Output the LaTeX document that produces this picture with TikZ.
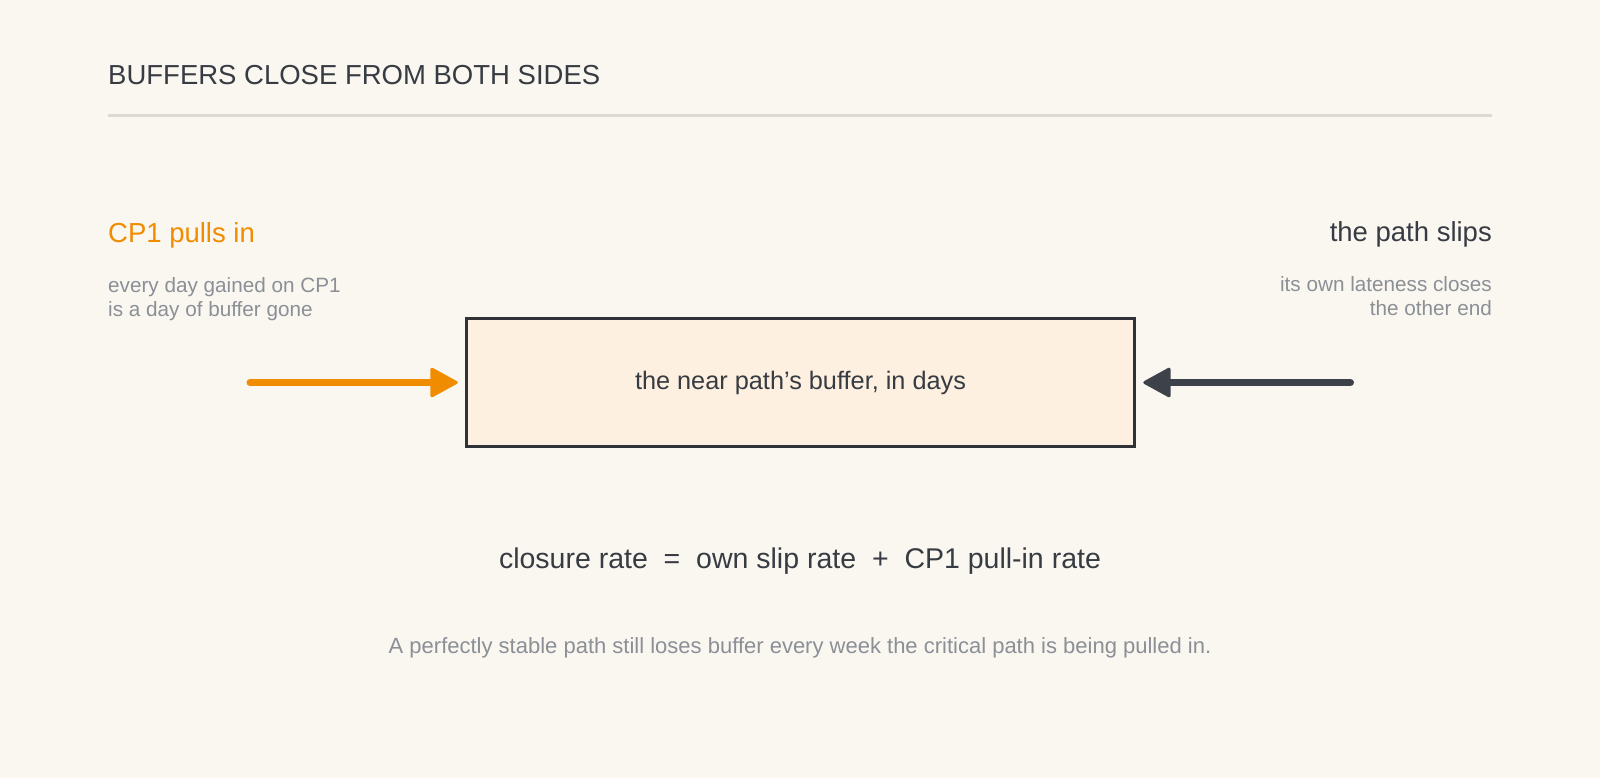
\documentclass[tikz,border=0pt]{standalone}
\usepackage{fontspec}
\setmainfont{Liberation Sans}
\usetikzlibrary{arrows.meta}

\definecolor{paper}{HTML}{FAF7F1}
\definecolor{ink}{HTML}{373B42}
\definecolor{muted}{HTML}{8B8F96}
\definecolor{rule}{HTML}{DDDAD4}
\definecolor{pull}{HTML}{F08C00}
\definecolor{slipink}{HTML}{3D424A}
\definecolor{bufedge}{HTML}{2F3237}
\definecolor{buffill}{HTML}{FDF0E0}

\tikzset{
  heading/.style={inner sep=0pt, font=\fontsize{27.5}{33}\selectfont},
  note/.style={inner sep=0pt, text=muted, font=\fontsize{20.7}{24}\selectfont},
  bufbox/.style={draw=bufedge, fill=buffill, line width=3.5pt,
    minimum width=668pt, minimum height=128pt, text=ink,
    font=\fontsize{25.3}{30}\selectfont},
  push/.style={line width=7pt, line cap=round, shorten >=7pt,
    -{Triangle[length=29pt, width=31pt, line width=3pt, round]}},
}

\begin{document}
\begin{tikzpicture}[x=1pt, y=-1pt]
  \fill[paper] (0,0) rectangle (1600,778);
  \useasboundingbox (0,0) rectangle (1600,778);

  \path
    (108,85) node[heading, anchor=base west, text=ink] (title) {BUFFERS CLOSE FROM BOTH SIDES}
    (108,242.7) node[heading, anchor=base west, text=pull] (cphead) {CP1 pulls in}
    (108,316) node[note, anchor=base west, align=left] (cpnote) {every day gained on CP1\\is a day of buffer gone}
    (1492,241.7) node[heading, anchor=base east, text=ink] (sliphead) {the path slips}
    (1492,315.5) node[note, anchor=base east, align=right] (slipnote) {its own lateness closes\\the other end}
    (800,568.3) node[inner sep=0pt, anchor=base, text=ink, font=\fontsize{28.5}{34}\selectfont] (rate)
      {closure rate~~=~~own slip rate~~+~~CP1 pull-in rate}
    (800,653.3) node[inner sep=0pt, anchor=base, text=muted, font=\fontsize{22}{26}\selectfont] (moral)
      {A perfectly stable path still loses buffer every week the critical path is being pulled in.};
  \draw[rule, line width=3pt] (108,116) -- (1492,116);

  \node[bufbox] (buf) at (800.5,382.5) {the near path’s buffer, in days};

  \coordinate (cpin) at (250,382.5);
  \coordinate (slip) at (1350.5,382.5);
  \begin{scope}[push]
    \draw[pull] (cpin) to (buf.west);
    \draw[slipink] (slip) to (buf.east);
  \end{scope}
\end{tikzpicture}
\end{document}
